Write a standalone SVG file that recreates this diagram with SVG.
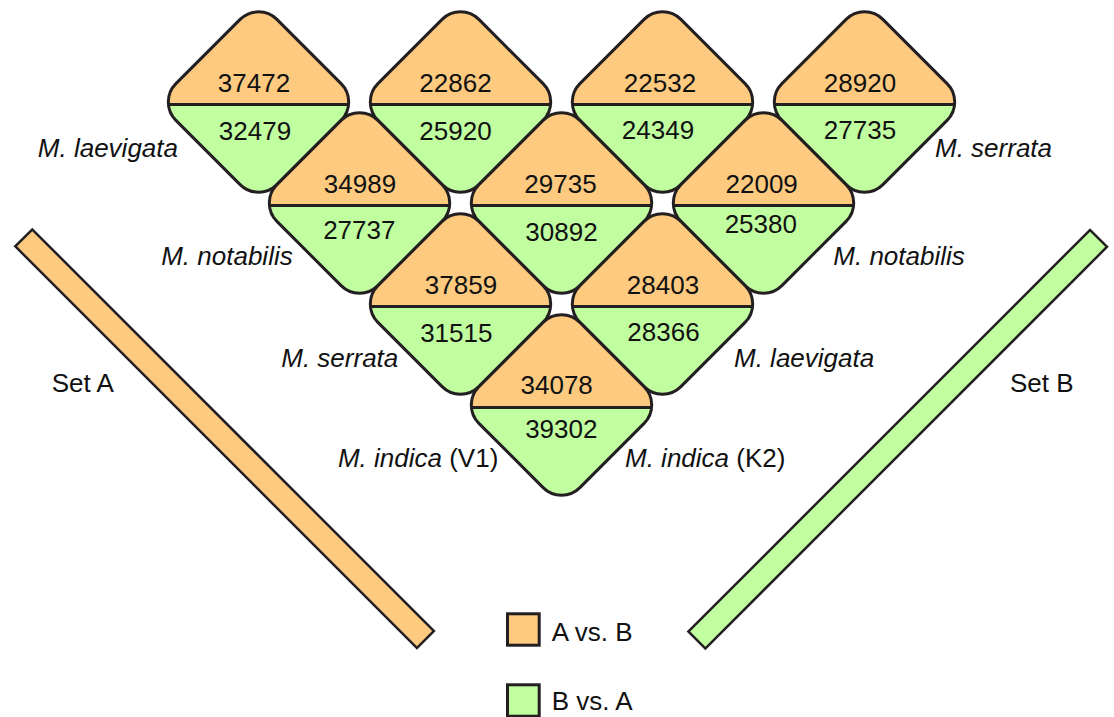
<svg xmlns="http://www.w3.org/2000/svg" xmlns:xlink="http://www.w3.org/1999/xlink" width="1114" height="717" viewBox="0 0 1114 717">
  <style>
    .ora { fill: #FDCA80; }
    .grn { fill: #C0FEA0; }
    .edge { fill: none; stroke: #231F20; stroke-width: 3; }
    .bar { stroke: #231F20; stroke-width: 2.5; }
    .num { font-family: "Liberation Sans", Arial, sans-serif; font-size: 26px; fill: #111; text-anchor: middle; }
    .lab { font-family: "Liberation Sans", Arial, sans-serif; font-size: 26px; fill: #111; }
    .it { font-style: italic; }
    .end { text-anchor: end; }
  </style>
  <defs>
    <!-- rounded square turned 45 degrees, centred on the origin -->
    <rect id="dia" x="-71.4" y="-71.4" width="142.8" height="142.8" rx="26" ry="26" transform="rotate(45)"/>
    <clipPath id="upper"><rect x="-110" y="-110" width="220" height="112.5"/></clipPath>
    <clipPath id="inside"><use xlink:href="#dia"/></clipPath>
    <!-- one split tile: A vs. B on top, B vs. A below -->
    <g id="tile">
      <use xlink:href="#dia" class="grn"/>
      <use xlink:href="#dia" class="ora" clip-path="url(#upper)"/>
      <line x1="-100" y1="2.5" x2="100" y2="2.5" class="edge" clip-path="url(#inside)"/>
      <use xlink:href="#dia" class="edge"/>
    </g>
  </defs>

  <rect width="1114" height="717" fill="#fff"/>

  <!-- set bars -->
  <g id="setA">
    <rect class="bar ora" x="-284" y="-12" width="568" height="24" transform="translate(224.6,438.7) rotate(45)"/>
    <text class="lab" x="51.7" y="391.7">Set A</text>
  </g>
  <g id="setB">
    <rect class="bar grn" x="-284" y="-12" width="568" height="24" transform="translate(897.7,439.2) rotate(-45)"/>
    <text class="lab" x="1010" y="391.7">Set B</text>
  </g>

  <!-- row 1 -->
  <g id="t-lae-ser">
    <use xlink:href="#tile" transform="translate(258.5,102)"/>
    <text class="num" x="254" y="91.5">37472</text>
    <text class="num" x="255" y="139.5">32479</text>
  </g>
  <g id="t-lae-not">
    <use xlink:href="#tile" transform="translate(460.5,102)"/>
    <text class="num" x="455.5" y="91.5">22862</text>
    <text class="num" x="455.5" y="139.5">25920</text>
  </g>
  <g id="t-lae-lae">
    <use xlink:href="#tile" transform="translate(662.5,102)"/>
    <text class="num" x="660" y="91.5">22532</text>
    <text class="num" x="658" y="138.5">24349</text>
  </g>
  <g id="t-lae-k2">
    <use xlink:href="#tile" transform="translate(864.5,102)"/>
    <text class="num" x="860" y="91.5">28920</text>
    <text class="num" x="860" y="138.5">27735</text>
  </g>

  <!-- row 2 -->
  <g id="t-not-ser">
    <use xlink:href="#tile" transform="translate(359.5,203)"/>
    <text class="num" x="360" y="192.7">34989</text>
    <text class="num" x="359.3" y="239.3">27737</text>
  </g>
  <g id="t-not-not">
    <use xlink:href="#tile" transform="translate(561.5,203)"/>
    <text class="num" x="560.5" y="192.7">29735</text>
    <text class="num" x="561.5" y="240.5">30892</text>
  </g>
  <g id="t-not-k2">
    <use xlink:href="#tile" transform="translate(763.5,203)"/>
    <text class="num" x="761.7" y="192.7">22009</text>
    <text class="num" x="760.8" y="233.3">25380</text>
  </g>

  <!-- row 3 -->
  <g id="t-ser-ser">
    <use xlink:href="#tile" transform="translate(460.5,304)"/>
    <text class="num" x="461" y="293.5">37859</text>
    <text class="num" x="456.3" y="341.7">31515</text>
  </g>
  <g id="t-ser-k2">
    <use xlink:href="#tile" transform="translate(662.5,304)"/>
    <text class="num" x="663" y="293.5">28403</text>
    <text class="num" x="663.5" y="340.5">28366</text>
  </g>

  <!-- row 4 -->
  <g id="t-v1-k2">
    <use xlink:href="#tile" transform="translate(561.5,405)"/>
    <text class="num" x="556.7" y="394.3">34078</text>
    <text class="num" x="561.3" y="438.3">39302</text>
  </g>

  <!-- species labels, Set A side -->
  <g id="labels-A">
    <text class="lab it end" x="178" y="156.7">M. laevigata</text>
    <text class="lab it end" x="292.7" y="265">M. notabilis</text>
    <text class="lab it end" x="398.3" y="366.7">M. serrata</text>
    <text class="lab end" x="498.3" y="467.3"><tspan class="it">M. indica</tspan> (V1)</text>
  </g>
  <!-- species labels, Set B side -->
  <g id="labels-B">
    <text class="lab it" x="935" y="156.7">M. serrata</text>
    <text class="lab it" x="833.3" y="265">M. notabilis</text>
    <text class="lab it" x="734" y="366.7">M. laevigata</text>
    <text class="lab" x="625" y="467.3"><tspan class="it">M. indica</tspan> (K2)</text>
  </g>

  <!-- legend -->
  <g id="legend">
    <rect class="ora" x="507.5" y="613.8" width="31.7" height="31.4" stroke="#231F20" stroke-width="3"/>
    <text class="lab" x="551.7" y="640.7">A vs. B</text>
    <rect class="grn" x="507.5" y="684.8" width="31.7" height="31.4" stroke="#231F20" stroke-width="3"/>
    <text class="lab" x="551.7" y="710">B vs. A</text>
  </g>
</svg>
